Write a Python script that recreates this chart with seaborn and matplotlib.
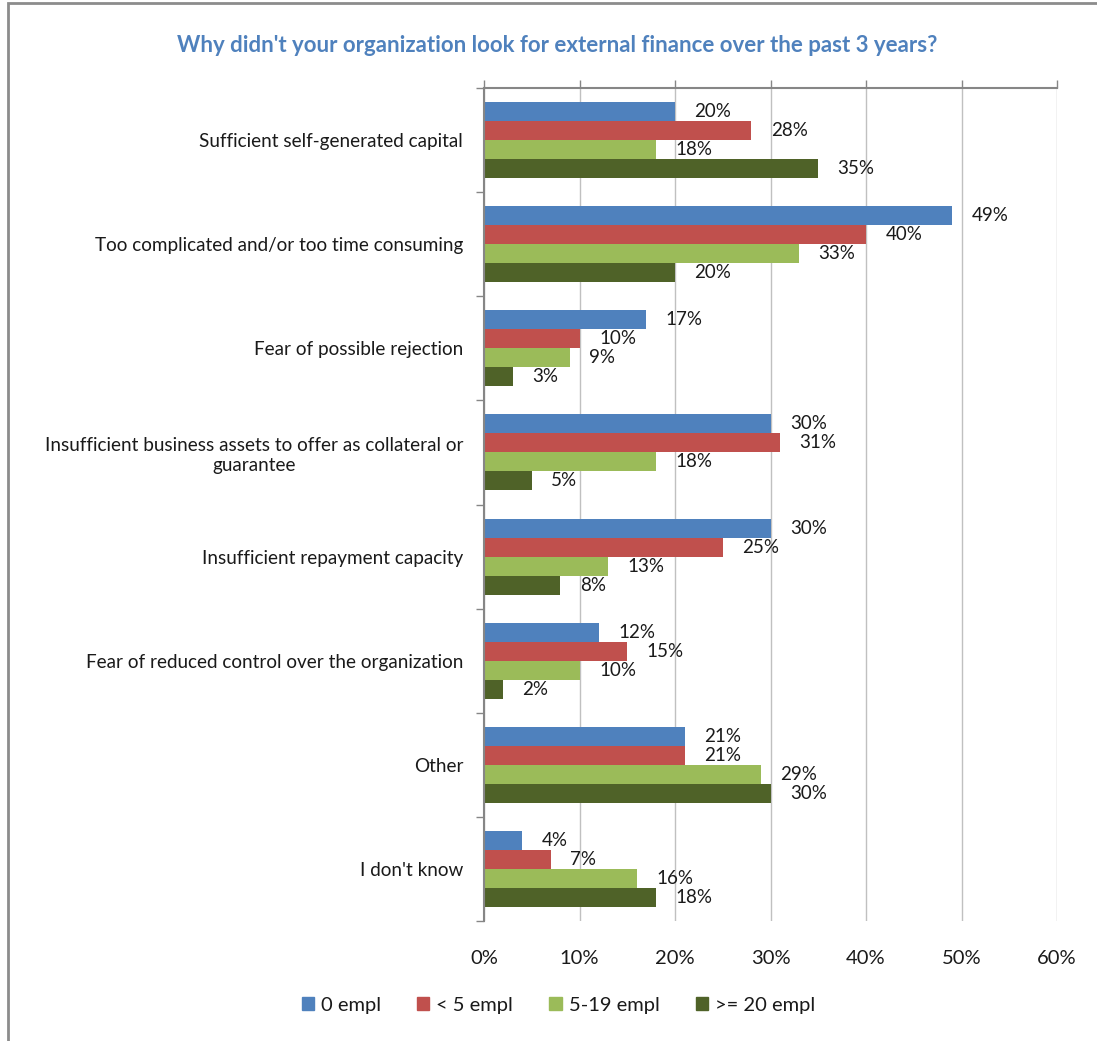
import matplotlib
matplotlib.use("Agg")
import matplotlib.pyplot as plt
from matplotlib.patches import Rectangle
from matplotlib.ticker import FixedLocator, FuncFormatter
import pandas as pd
import seaborn as sns

# Survey answers (percent of respondents) by company size
reasons = [
    "Sufficient self-generated capital",
    "Too complicated and/or too time consuming",
    "Fear of possible rejection",
    "Insufficient business assets to offer as collateral or\nguarantee",
    "Insufficient repayment capacity",
    "Fear of reduced control over the organization",
    "Other",
    "I don't know",
]
size_groups = ["0 empl", "< 5 empl", "5-19 empl", ">= 20 empl"]
empl_0 = [20, 49, 17, 30, 30, 12, 21, 4]
empl_lt5 = [28, 40, 10, 31, 25, 15, 21, 7]
empl_5_19 = [18, 33, 9, 18, 13, 10, 29, 16]
empl_ge20 = [35, 20, 3, 5, 8, 2, 30, 18]
x_ticks = [0, 10, 20, 30, 40, 50, 60]

colors = ["#4F81BD", "#C0504D", "#9BBB59", "#4F6228"]

series = [empl_0, empl_lt5, empl_5_19, empl_ge20]
df = pd.DataFrame(
    [(r, g, v) for g, vals in zip(size_groups, series) for r, v in zip(reasons, vals)],
    columns=["reason", "size", "pct"],
)

sns.set_theme(style="white")
plt.rcParams["font.family"] = ["Lato", "DejaVu Sans"]
text_color = "#1a1a1a"

fig = plt.figure(figsize=(10.97, 10.41), dpi=100)
ax = fig.add_axes([484 / 1097, 1 - 921 / 1041, (1057 - 484) / 1097, (921 - 88) / 1041])

sns.barplot(
    data=df, y="reason", x="pct", hue="size", order=reasons, hue_order=size_groups,
    palette=colors, orient="h", width=0.73, linewidth=0, saturation=1, ax=ax,
)

for cont, vals in zip(ax.containers, series):
    ax.bar_label(cont, labels=[f"{v}%" for v in vals], padding=14,
                 fontsize=13.5, color=text_color)

ax.set_xlim(0, 60)
ax.set_ylim(len(reasons) - 0.5, -0.5)
ax.set_xlabel("")
ax.set_ylabel("")

# value axis: ticks along the top edge, labels below the plot
ax.xaxis.set_major_locator(FixedLocator(x_ticks))
ax.xaxis.set_major_formatter(FuncFormatter(lambda v, _: f"{v:.0f}%"))
ax.tick_params(axis="x", top=True, bottom=False, labeltop=False, labelbottom=True,
               direction="out", length=6, width=1, color="#868686",
               pad=15, labelsize=14.5, labelcolor=text_color)
ax.grid(axis="x", color="#C0C0C0", linewidth=1)
ax.set_axisbelow(True)

# category axis: labels centred on groups, tick marks between groups
ax.tick_params(axis="y", which="major", length=0, pad=15, labelsize=13.6,
               labelcolor=text_color)
for lbl in ax.get_yticklabels():
    lbl.set_multialignment("center")
ax.yaxis.set_minor_locator(FixedLocator([i - 0.5 for i in range(len(reasons) + 1)]))
ax.tick_params(axis="y", which="minor", left=True, length=6, width=1,
               color="#868686", direction="out")

for side in ["right", "bottom"]:
    ax.spines[side].set_visible(False)
for side in ["top", "left"]:
    ax.spines[side].set_color("#868686")
    ax.spines[side].set_linewidth(1.5)

ax.legend_.remove()
handles = [Rectangle((0, 0), 1, 1, color=c) for c in colors]
fig.legend(handles, size_groups, loc="center", bbox_to_anchor=(0.509, 1 - 1005 / 1041),
           ncol=4, frameon=False, fontsize=14.5, handlelength=0.6, handleheight=0.6,
           handletextpad=0.35, columnspacing=1.8, labelcolor=text_color)

fig.text(0.508, 1 - 45 / 1041,
         "Why didn't your organization look for external finance over the past 3 years?",
         ha="center", va="center", fontsize=16, fontweight="bold", color="#4F81BD")

# outer chart frame
fig.add_artist(Rectangle((8 / 1097, -0.1), 1.2, 1 - 3 / 1041 + 0.1,
                         transform=fig.transFigure, fill=False,
                         edgecolor="#8C8C8C", linewidth=2))

fig.savefig("out.png", dpi=100)
